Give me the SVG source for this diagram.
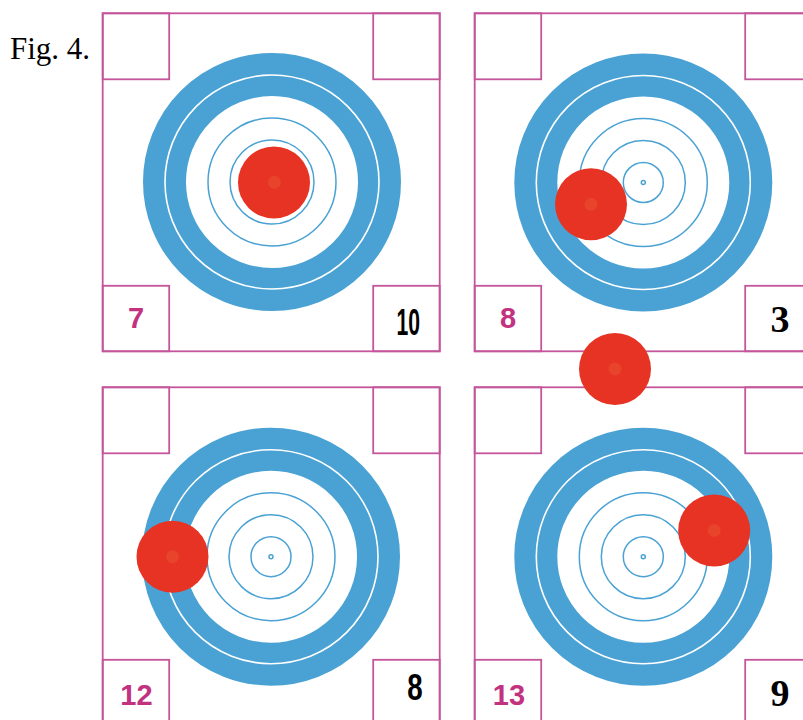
<svg xmlns="http://www.w3.org/2000/svg" width="803" height="720" viewBox="0 0 803 720">
<defs>
<style>
.frame{fill:none;stroke:#c4559b;stroke-width:1.8}
.band{fill:none;stroke:#4aa2d4;stroke-width:43}
.wline{fill:none;stroke:#ffffff;stroke-width:1.6}
.ring{fill:none;stroke:#4aa2d4;stroke-width:1.5}
.hit{fill:#e63323}
.hl{fill:#e8442b}
.pn{font-family:"Liberation Sans",Arial,sans-serif;font-weight:bold;font-size:29px;fill:#c2327f;text-anchor:middle}
.cn{font-family:"Liberation Sans",Arial,sans-serif;font-weight:bold;font-size:37px;fill:#000}
.sn{font-family:"Liberation Serif","Times New Roman",serif;font-weight:bold;font-size:38px;fill:#000;text-anchor:middle}
</style>
<g id="target">
<circle r="107.5" class="band"/>
<circle r="107" class="wline"/>
<circle r="64" class="ring"/>
<circle r="42" class="ring"/>
<circle r="20" class="ring"/>
<circle r="2" class="ring" stroke-width="1.2"/>
</g>
<g id="corners">
<rect x="0" y="0" width="337" height="338" class="frame"/>
<rect x="0" y="0" width="66.5" height="66" class="frame"/>
<rect x="270.5" y="0" width="66.5" height="66" class="frame"/>
<rect x="0" y="272.5" width="66.5" height="65.5" class="frame"/>
<rect x="270.5" y="272.5" width="66.5" height="65.5" class="frame"/>
</g>
</defs>
<rect width="803" height="720" fill="#ffffff"/>
<text id="caption" x="10" y="59" font-family="Liberation Serif,'Times New Roman',serif" font-size="31" fill="#000">Fig. 4.</text>

<g id="panel1">
<use href="#corners" x="102.7" y="13.3"/>
<use href="#target" x="272" y="182"/>
<circle cx="274" cy="182.5" r="36" class="hit"/>
<circle cx="274.3" cy="182.3" r="6.5" class="hl"/>
<text x="136" y="328" class="pn">7</text>
<text x="396.5" y="335" class="cn" textLength="23.5" lengthAdjust="spacingAndGlyphs">10</text>
</g>

<g id="panel2">
<use href="#corners" x="474.7" y="13.3"/>
<use href="#target" x="643.3" y="182.5"/>
<circle cx="591" cy="204.3" r="36" class="hit"/>
<circle cx="591" cy="204.3" r="6.5" class="hl"/>
<text x="508" y="328.3" class="pn">8</text>
<text x="780" y="332" class="sn">3</text>
</g>

<g id="panel3">
<use href="#corners" x="102.7" y="387.3"/>
<use href="#target" x="271" y="556.7"/>
<circle cx="172.5" cy="556.7" r="36" class="hit"/>
<circle cx="172.5" cy="556.7" r="6.5" class="hl"/>
<text x="136.5" y="705" class="pn">12</text>
<text x="407.3" y="700" class="cn" textLength="15.4" lengthAdjust="spacingAndGlyphs" font-size="34">8</text>
</g>

<g id="panel4">
<use href="#corners" x="474.7" y="387.3"/>
<use href="#target" x="643.3" y="556.7"/>
<circle cx="714.2" cy="530.5" r="36" class="hit"/>
<circle cx="714.2" cy="530.5" r="6.5" class="hl"/>
<text x="509" y="705" class="pn">13</text>
<text x="780" y="706" class="sn">9</text>
</g>

<g id="stray">
<circle cx="615" cy="369" r="36" class="hit"/>
<circle cx="615" cy="369" r="6.5" class="hl"/>
</g>
</svg>
